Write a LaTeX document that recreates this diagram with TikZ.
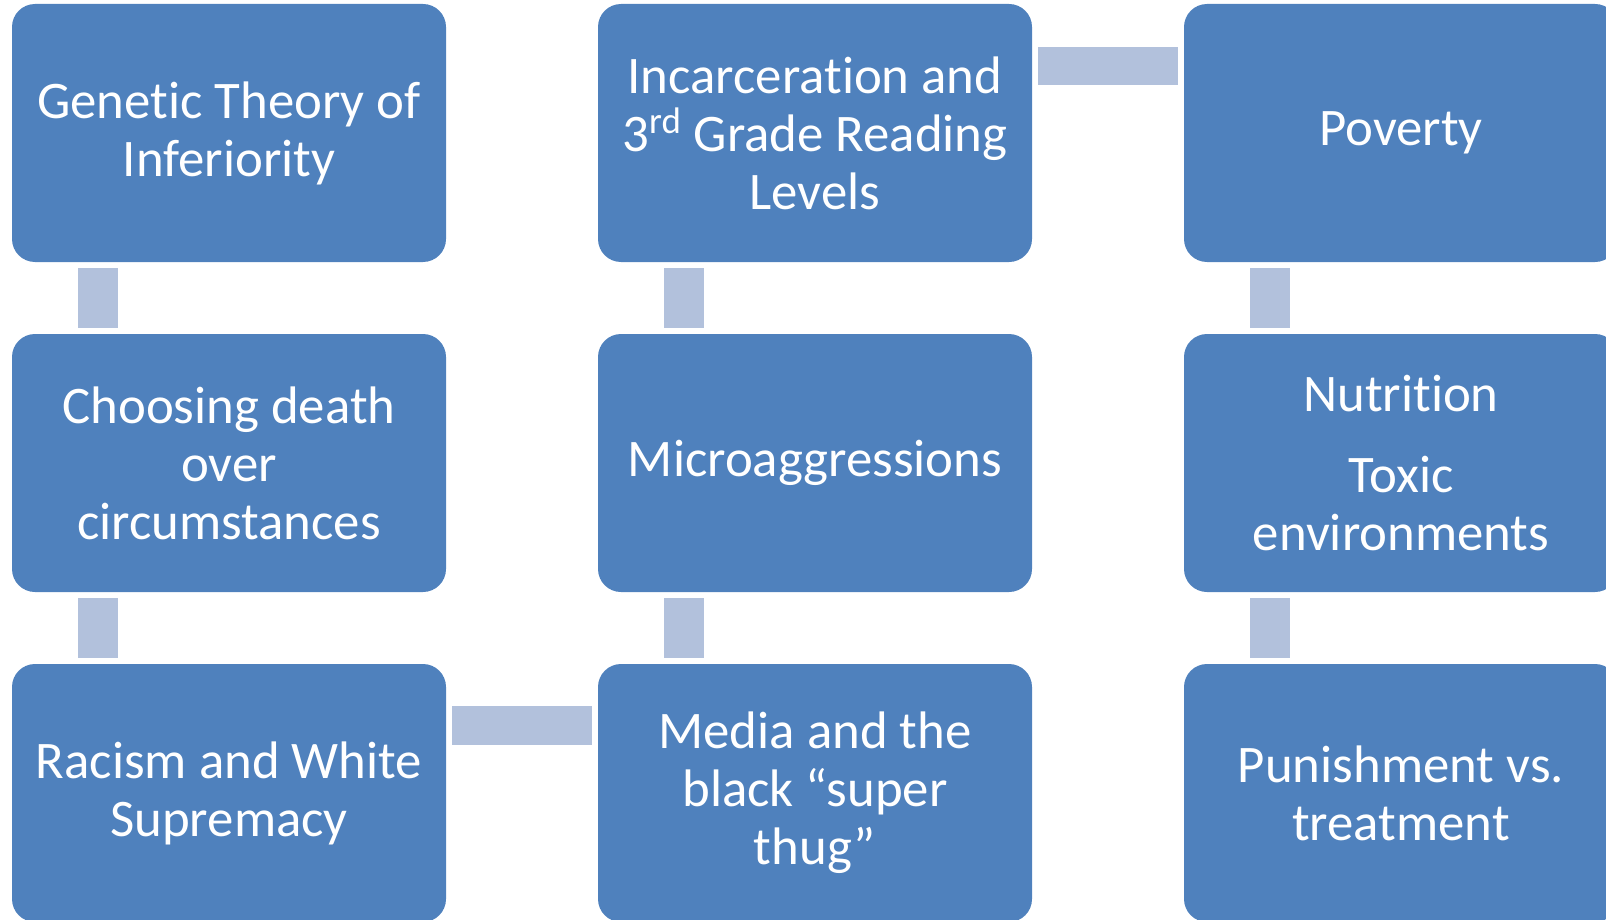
\documentclass[tikz,border=0pt]{standalone}
\usepackage{fontspec}
\setmainfont{Carlito}[Ligatures=NoCommon]
\usepackage{tikz}

\definecolor{boxblue}{RGB}{79,129,189}
\definecolor{linkblue}{RGB}{178,193,220}

\tikzset{
  topic/.style={fill=boxblue, rounded corners=11.5pt, minimum width=217pt,
    minimum height=129pt, text width=210pt, inner sep=0pt, align=flush center,
    text=white, font=\fontsize{26.4}{29}\selectfont},
  link/.style={fill=linkblue}
}

\begin{document}
\begin{tikzpicture}[x=0.5pt,y=0.5pt,yscale=-1]
        \useasboundingbox (0,0) rectangle (1606,920);
        \clip (0,0) rectangle (1606,920);

        % left column
        \node[topic] (gen) at (229,133) {Genetic Theory of\\Inferiority};
        \node[topic] (choose) at (229,463) {Choosing death\\over\\circumstances};
        \node[topic] (racism) at (229,793) {Racism and White\\Supremacy};

        % middle column
        \node[topic] (incar) at (815,133) {Incarceration and\\3\textsuperscript{rd} Grade Reading\\Levels};
        \node[topic] (micro) at (815,463) {Microaggressions};
        \node[topic] (media) at (815,793) {Media and the\\black “super\\thug”};

        % right column
        \node[topic] (pov) at (1401,133) {Poverty};
        \node[topic] (nutr) at (1401,463) {Nutrition\\[11.5pt]Toxic\\environments};
        \node[topic] (punish) at (1401,793) {Punishment vs.\\treatment};

        % vertical links
        \fill[link] ([shift={(66,6)}]gen.south west) rectangle ([shift={(106,-6)}]choose.north west);
        \fill[link] ([shift={(66,6)}]choose.south west) rectangle ([shift={(106,-6)}]racism.north west);
        \fill[link] ([shift={(66,6)}]incar.south west) rectangle ([shift={(106,-6)}]micro.north west);
        \fill[link] ([shift={(66,6)}]micro.south west) rectangle ([shift={(106,-6)}]media.north west);
        \fill[link] ([shift={(66,6)}]pov.south west) rectangle ([shift={(106,-6)}]nutr.north west);
        \fill[link] ([shift={(66,6)}]nutr.south west) rectangle ([shift={(106,-6)}]punish.north west);

        % horizontal links
        \fill[link] ([shift={(6,42)}]racism.north east) rectangle ([shift={(-6,81)}]media.north west);
        \fill[link] ([shift={(6,43)}]incar.north east) rectangle ([shift={(-6,81)}]pov.north west);

\end{tikzpicture}
\end{document}
